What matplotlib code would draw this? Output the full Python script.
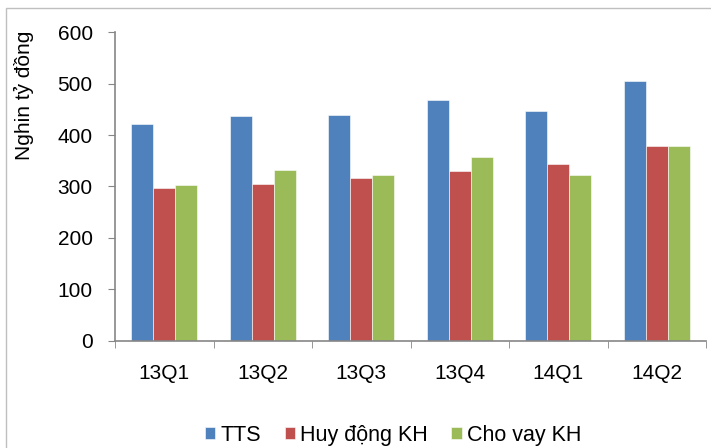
import numpy as np
import matplotlib
matplotlib.use('Agg')
from matplotlib import pyplot as plt
from matplotlib.patches import Rectangle

plt.rcParams['font.family'] = ['Liberation Sans', 'DejaVu Sans']

quarters = ['13Q1', '13Q2', '13Q3', '13Q4', '14Q1', '14Q2']
tts = [421, 437, 440, 468, 447, 505]
huy_dong = [298, 305, 317, 331, 343, 378]
cho_vay = [303, 332, 322, 357, 323, 379]

series = [
    ('TTS', tts, '#4F81BD'),
    ('Huy động KH', huy_dong, '#C0504D'),
    ('Cho vay KH', cho_vay, '#9BBB59'),
]

W, H = 711, 448
fig = plt.figure(figsize=(W / 100, H / 100), dpi=100)
ax = fig.add_axes([115 / W, 1 - 340.5 / H, 591 / W, 308 / H])

# outer chart frame
fig.patches.append(Rectangle((6 / W, -0.01), 1.0, 1 - 8 / H + 0.01,
                             transform=fig.transFigure, fill=False,
                             ec='#BFBFBF', lw=1.0))

x = np.arange(len(quarters))
w = 1 / 4.5
for i, (name, vals, col) in enumerate(series):
    ax.bar(x + (i - 1) * w, vals, width=w, color=col, label=name,
           edgecolor='#FFFFFF', linewidth=0.4)

ax.set_xlim(-0.5, len(quarters) - 0.5)
ax.set_ylim(0, 600)
ax.set_yticks(range(0, 601, 100))
ax.set_xticks(x)
ax.set_xticklabels(quarters)
ax.set_xticks(np.arange(-0.5, len(quarters)), minor=True)
ax.tick_params(axis='x', which='major', length=0, pad=17, labelsize=15)
ax.tick_params(axis='x', which='minor', length=5, color='#868686', direction='out')
ax.tick_params(axis='y', length=5, color='#868686', labelsize=15, pad=11)

for side in ['top', 'right']:
    ax.spines[side].set_visible(False)
for side in ['left', 'bottom']:
    ax.spines[side].set_color('#868686')
    ax.spines[side].set_linewidth(1.2)

ax.set_ylabel('Nghin tỷ đồng', fontsize=15)
ax.yaxis.set_label_coords(-0.137, 0.797)

fig.legend(loc='center', bbox_to_anchor=(393 / W, 1 - 435 / H),
           bbox_transform=fig.transFigure, ncol=3, frameon=False,
           fontsize=15.5, handlelength=0.47, handleheight=0.47,
           handletextpad=0.25, columnspacing=1.1)

fig.savefig('out.png', dpi=100)
